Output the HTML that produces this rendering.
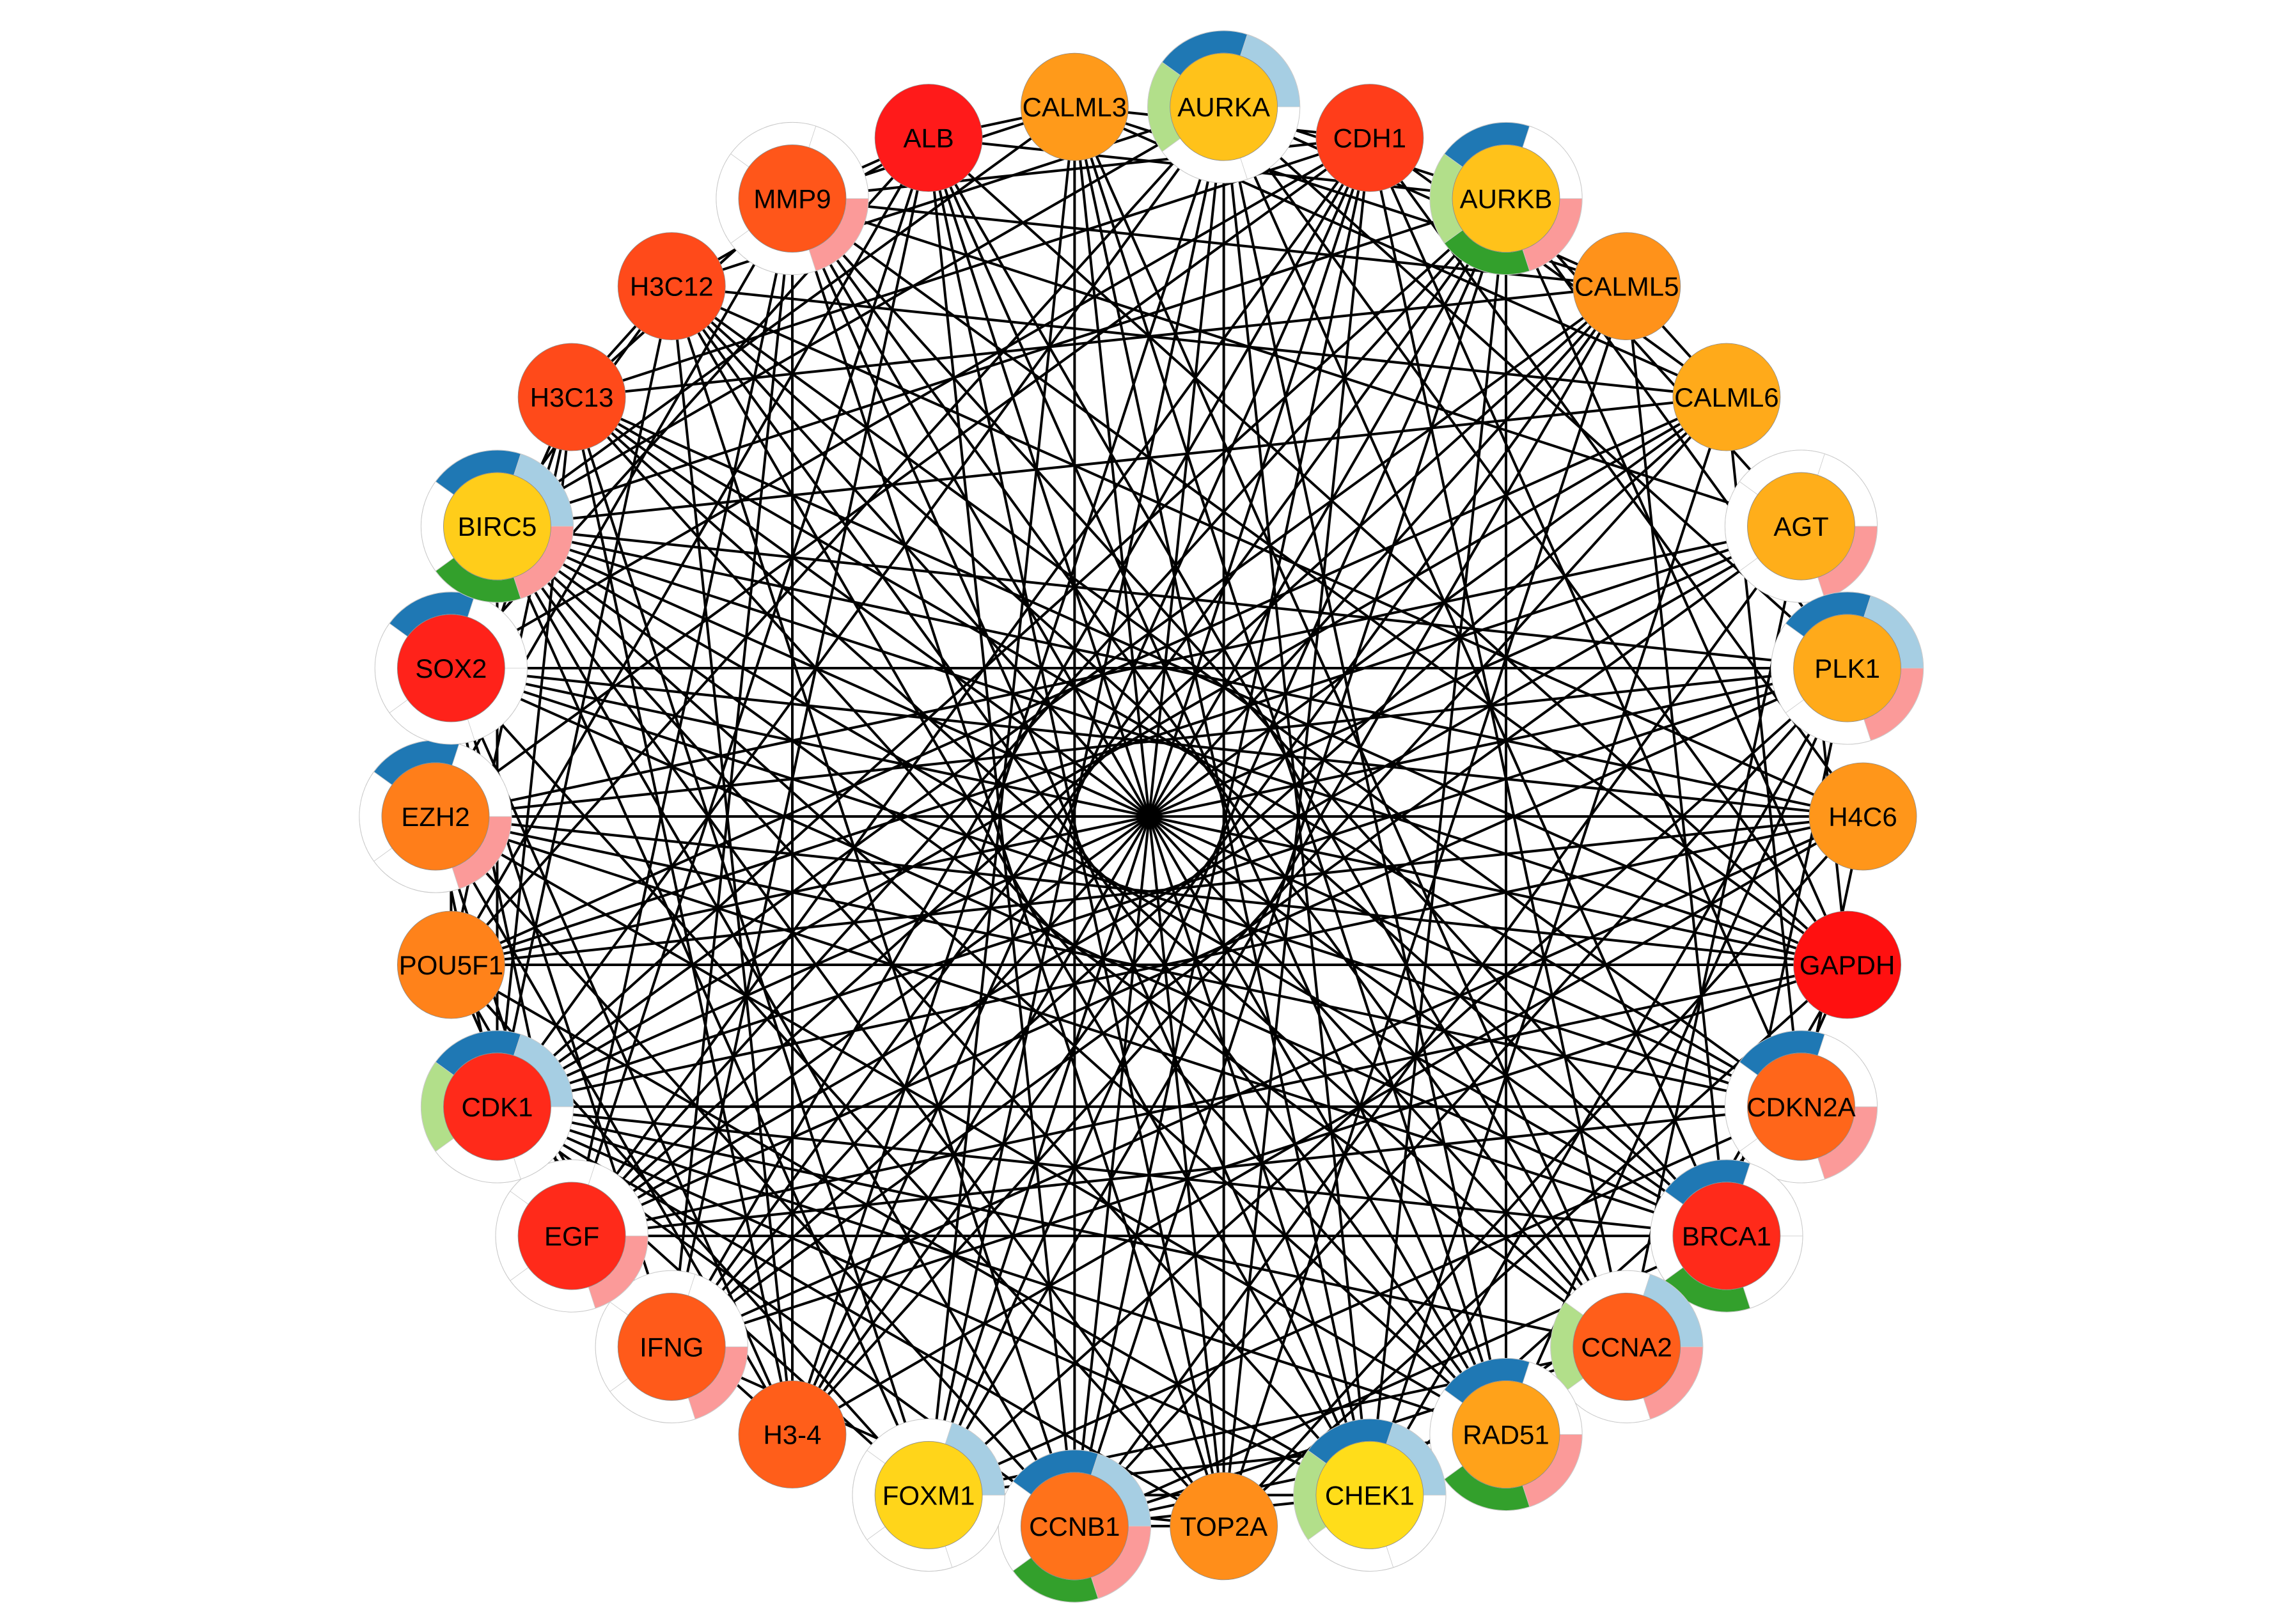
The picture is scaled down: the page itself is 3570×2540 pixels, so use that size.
<!DOCTYPE html>
<html><head><meta charset="utf-8"><style>
html,body{margin:0;padding:0;background:#fff;}
svg{display:block;}
text{font-family:"Liberation Sans",Arial,sans-serif;}
</style></head><body>
<svg id="net" width="3570" height="2540" viewBox="0 0 3570 2540" xmlns="http://www.w3.org/2000/svg">
<rect width="3570" height="2540" fill="#fff"/>
<g id="edges"></g>
<g id="nodes"></g>
</svg>
<script>
const names=["AURKA","CDH1","AURKB","CALML5","CALML6","AGT","PLK1","H4C6","GAPDH","CDKN2A","BRCA1","CCNA2","RAD51","CHEK1","TOP2A","CCNB1","FOXM1","H3-4","IFNG","EGF","CDK1","POU5F1","EZH2","SOX2","BIRC5","H3C13","H3C12","MMP9","ALB","CALML3"];
const fills=["#ffc21a","#ff3d1a","#ffc21a","#ff921a","#ffaa1a","#ffae1a","#ffaa1a","#ff961a","#ff1010","#ff661a","#ff2a1a","#ff5e1a","#ffa21a","#ffdd1a","#ff8e1a","#ff721a","#ffd51a","#ff5e1a","#ff5a1a","#ff2a1a","#ff2a1a","#ff821a","#ff7e1a","#ff221a","#ffcd1a","#ff4a1a","#ff4a1a","#ff561a","#ff1a1a","#ff9a1a"];
// ring segments: [pink, darkgreen, lightgreen, darkblue, lightblue]; null = no ring
const rings=[[0,0,1,1,1],null,[1,1,1,1,0],null,null,[1,0,0,0,0],[1,0,0,1,1],null,null,[1,0,0,1,0],[0,1,0,1,0],[1,0,1,0,1],[1,1,0,1,0],[0,0,1,1,1],null,[1,1,0,1,1],[0,0,0,0,1],null,[1,0,0,0,0],[1,0,0,0,0],[0,0,1,1,1],null,[1,0,0,1,0],[0,0,0,1,0],[1,1,0,1,1],null,null,[1,0,0,0,0],null,null];
const adj={0:[2,3,6,8,10,12,13,14,15,16,20,21,24,26],1:[4,7,9,11,14,16,17,19,22,23,25,27,29],2:[5,6,8,12,13,15,16,17,20,24,28],3:[4,10,14,18,19,25,27,29],4:[9,13,19,24,26,29],5:[8,11,15,18,20,22,27],6:[10,12,13,15,16,20,21,24],7:[9,14,17,18,22,26],8:[10,11,14,18,19,21,22,23,25,27,28],9:[10,11,13,16,19,20,22,24,26],10:[11,12,13,15,19,20,22,25],11:[13,15,16,20,24,26,29],12:[13,15,16,20,22,24,27],13:[15,16,20,21,24,28],14:[15,16,20,23,24,29],15:[16,18,20,22,24,26],16:[20,21,24,25,29],17:[19,22,23,25,26,27],18:[19,21,23,27,28],19:[21,22,23,27,28],20:[22,24,25,26],21:[23,25,28],22:[24,25,27],23:[25,28],24:[26,29],25:[26,27],26:[28],27:[28,29],28:[29]};
// every node is linked to the nodes this many positions away around the circle
const fullSkips=[13,14,15];
const ringColors=["#fb9a99","#33a02c","#b2df8a","#1f78b4","#a6cee3"];
const CX=1797,CY=1277,R=1116,NR=84,RO=119;
const NS="http://www.w3.org/2000/svg";
function pos(i){const a=(6+12*i)*Math.PI/180;return [CX+R*Math.sin(a),CY-R*Math.cos(a)];}
const eg=document.getElementById('edges'),ng=document.getElementById('nodes');
const seen=new Set();
function addEdge(i,j){i=i%30;j=j%30;const k=Math.min(i,j)+'-'+Math.max(i,j);if(i===j||seen.has(k))return;seen.add(k);
 const [x1,y1]=pos(i),[x2,y2]=pos(j);const l=document.createElementNS(NS,'line');
 l.setAttribute('x1',x1);l.setAttribute('y1',y1);l.setAttribute('x2',x2);l.setAttribute('y2',y2);
 l.setAttribute('stroke','#000');l.setAttribute('stroke-width','4');
 
 
 eg.appendChild(l);}
for(const i in adj)for(const j of adj[i])addEdge(+i,j);
for(const s of fullSkips)for(let i=0;i<30;i++)addEdge(i,i+s);
function arc(cx,cy,r1,r2,a0,a1){const p=(r,a)=>[cx+r*Math.cos(a*Math.PI/180),cy+r*Math.sin(a*Math.PI/180)];
 const [x0,y0]=p(r2,a0),[x1,y1]=p(r2,a1),[x2,y2]=p(r1,a1),[x3,y3]=p(r1,a0);
 return `M${x0},${y0}A${r2},${r2} 0 0 1 ${x1},${y1}L${x2},${y2}A${r1},${r1} 0 0 0 ${x3},${y3}Z`;}
names.forEach((n,i)=>{const [x,y]=pos(i);const g=document.createElementNS(NS,'g');
 
 
 if(rings[i]){const bg=document.createElementNS(NS,'circle');bg.setAttribute('cx',x);bg.setAttribute('cy',y);bg.setAttribute('r',RO);bg.setAttribute('fill','#fff');bg.setAttribute('stroke','#bbb');bg.setAttribute('stroke-width','1.2');g.appendChild(bg);
  rings[i].forEach((on,s)=>{const p=document.createElementNS(NS,'path');p.setAttribute('d',arc(x,y,NR,RO,s*72,s*72+72));p.setAttribute('fill',on?ringColors[s]:'#fff');p.setAttribute('stroke','#ccc');p.setAttribute('stroke-width','0.8');
   
   
   g.appendChild(p);});}
 const c=document.createElementNS(NS,'circle');c.setAttribute('cx',x);c.setAttribute('cy',y);c.setAttribute('r',NR);c.setAttribute('fill',fills[i]);c.setAttribute('stroke','#888');c.setAttribute('stroke-width','0.8');g.appendChild(c);
 const t=document.createElementNS(NS,'text');t.setAttribute('x',x);t.setAttribute('y',y+15);t.setAttribute('text-anchor','middle');t.setAttribute('font-size','42');t.setAttribute('fill','#000');t.textContent=n;
 
 
 g.appendChild(t);ng.appendChild(g);});
</script>
</body></html>
